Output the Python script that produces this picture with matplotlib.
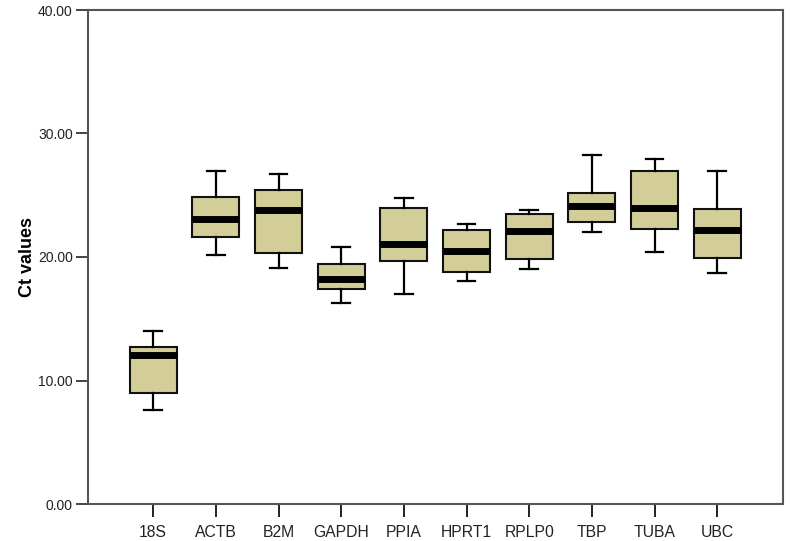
import matplotlib
matplotlib.use("Agg")
import matplotlib.pyplot as plt

# Ct values per reference gene
genes = ["18S", "ACTB", "B2M", "GAPDH", "PPIA", "HPRT1", "RPLP0", "TBP", "TUBA", "UBC"]
whis_lo = [7.65, 20.2, 19.1, 16.3, 17.0, 18.05, 19.0, 22.0, 20.4, 18.7]
q1 = [9.0, 21.65, 20.35, 17.4, 19.65, 18.75, 19.85, 22.85, 22.25, 19.95]
median = [12.05, 23.05, 23.8, 18.25, 21.05, 20.5, 22.1, 24.1, 23.95, 22.15]
q3 = [12.7, 24.85, 25.45, 19.4, 24.0, 22.15, 23.45, 25.15, 26.95, 23.9]
whis_hi = [14.0, 27.0, 26.7, 20.8, 24.75, 22.7, 23.8, 28.25, 27.95, 27.0]

plt.rcParams['font.family'] = ['Liberation Sans', 'DejaVu Sans']

stats = []
for g, lo, a, m, b, hi in zip(genes, whis_lo, q1, median, q3, whis_hi):
    stats.append(dict(label=g, whislo=lo, q1=a, med=m, q3=b, whishi=hi, fliers=[]))

fig = plt.figure(figsize=(7.9, 5.41), dpi=100)
ax = fig.add_axes([88 / 790, 1 - 504 / 541, (783 - 88) / 790, (504 - 10) / 541])

ax.bxp(stats, positions=range(len(genes)), widths=0.75, capwidths=0.28,
       patch_artist=True, showfliers=False,
       boxprops=dict(facecolor="#d3ce98", edgecolor="#111111", linewidth=1.5),
       medianprops=dict(color="black", linewidth=5, solid_capstyle="butt"),
       whiskerprops=dict(color="black", linewidth=1.6),
       capprops=dict(color="black", linewidth=1.6))

ax.set_xlim(-1.04, 10.05)
ax.set_ylim(0, 40)
ax.set_yticks([0, 10, 20, 30, 40])
ax.set_yticklabels(["%.2f" % v for v in [0, 10, 20, 30, 40]], fontsize=10, color="#222222")
ax.set_xticks(range(len(genes)))
ax.set_xticklabels(genes, fontsize=11.3, color="#222222")
ax.tick_params(axis="y", length=9, width=1.4, color="#444444", pad=2)
ax.tick_params(axis="x", length=9, width=1.4, color="#222222", pad=6)
ax.set_ylabel("Ct values", fontsize=13, fontweight="bold", labelpad=1)

for s in ax.spines.values():
    s.set_color("#555555")
    s.set_linewidth(1.5)

fig.savefig("out.png", dpi=100)
